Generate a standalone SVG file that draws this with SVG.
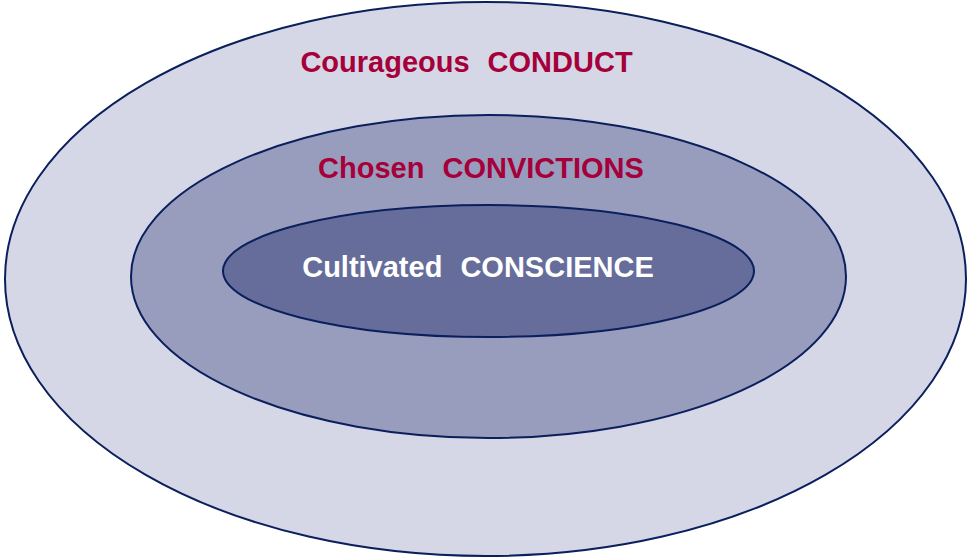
<svg xmlns="http://www.w3.org/2000/svg" width="971" height="559" viewBox="0 0 971 559">
<style>
.ring{stroke:#0A1F5C;stroke-width:2}
.lbl{font-family:"Liberation Sans",Arial,sans-serif;font-weight:bold;font-size:29px;text-anchor:middle;word-spacing:10px}
.red{fill:#A5003A}
.white{fill:#FFFFFF}
</style>
<rect width="971" height="559" fill="#FFFFFF"/>
<g id="outer">
<ellipse class="ring" cx="485.5" cy="279" rx="480.5" ry="277" fill="#D5D6E6"/>
<text class="lbl red" x="466.5" y="72">Courageous CONDUCT</text>
</g>
<g id="middle">
<ellipse class="ring" cx="488.5" cy="276.5" rx="357.5" ry="161.5" fill="#999DBD"/>
<text class="lbl red" x="481" y="178">Chosen CONVICTIONS</text>
</g>
<g id="inner">
<ellipse class="ring" cx="488.5" cy="271" rx="265.5" ry="66" fill="#666D9B"/>
<text class="lbl white" x="478" y="277">Cultivated CONSCIENCE</text>
</g>
<g id="connectors"></g>
</svg>
